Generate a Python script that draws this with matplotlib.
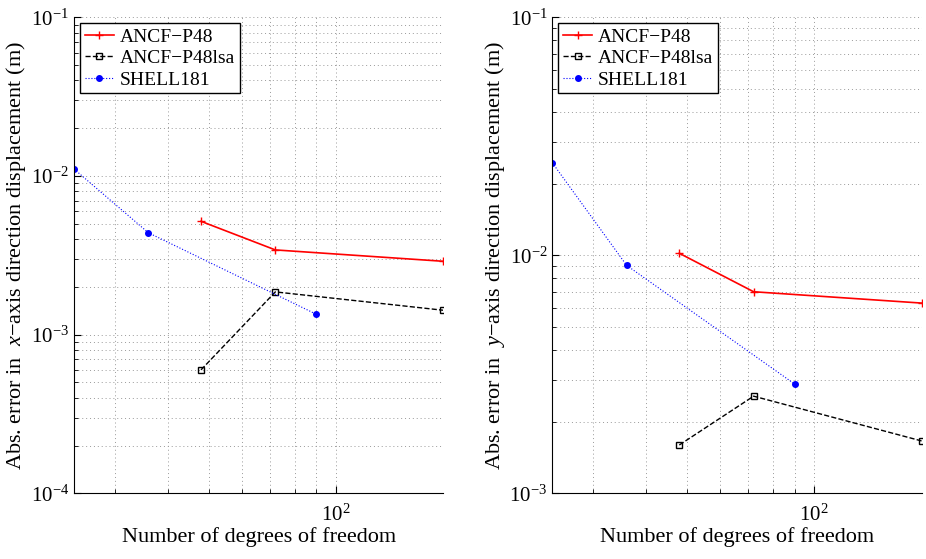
import matplotlib
matplotlib.use("Agg")
import matplotlib.pyplot as plt
from matplotlib.ticker import LogLocator, NullFormatter, FixedLocator

plt.rcParams['font.family'] = ['Liberation Serif', 'DejaVu Serif']
plt.rcParams['mathtext.fontset'] = 'custom'
plt.rcParams['mathtext.rm'] = 'Liberation Serif'
plt.rcParams['mathtext.it'] = 'Liberation Serif:italic'
plt.rcParams['font.size'] = 15

# degrees of freedom
dof_ancf = [48, 72, 180]
dof_shell = [24, 36, 90]

# x-axis direction errors (m)
x_ancf = [5.18e-3, 3.42e-3, 2.90e-3]
x_ancf_lsa = [6.0e-4, 1.86e-3, 1.425e-3]
x_shell = [1.107e-2, 4.39e-3, 1.345e-3]

# y-axis direction errors (m)
y_ancf = [1.02e-2, 7.03e-3, 6.30e-3]
y_ancf_lsa = [1.596e-3, 2.56e-3, 1.66e-3]
y_shell = [2.45e-2, 9.08e-3, 2.88e-3]

fig = plt.figure(figsize=(9.26, 5.59), dpi=100)
ax1 = fig.add_axes([0.0799, 0.1175, 0.3988, 0.8515])
ax2 = fig.add_axes([0.5964, 0.1175, 0.3988, 0.8515])


def panel(ax, a, lsa, sh, ylim, comp):
    ax.loglog(dof_ancf, a, '-', color='red', marker='+', ms=6, lw=1.2,
              label='ANCF\u2212P48')
    ax.loglog(dof_ancf, lsa, '--', color='black', marker='s', ms=4,
              mfc='none', lw=1.0, label='ANCF\u2212P48lsa')
    ax.loglog(dof_shell, sh, ':', color='blue', marker='.', ms=8, lw=0.8,
              label='SHELL181')
    ax.set_xlim(24, 180)
    ax.set_ylim(*ylim)
    ax.xaxis.set_major_locator(FixedLocator([100]))
    ax.xaxis.set_minor_locator(FixedLocator([30, 40, 50, 60, 70, 80, 90]))
    ax.xaxis.set_minor_formatter(NullFormatter())
    ax.yaxis.set_minor_locator(LogLocator(subs=range(2, 10)))
    ax.yaxis.set_minor_formatter(NullFormatter())
    ax.grid(True, which='both', linestyle=(0, (1, 3)), color='#999999', lw=0.7)
    ax.tick_params(which='both', direction='in', labelsize=15)
    ax.tick_params(which='major', length=5)
    ax.tick_params(which='minor', length=3)
    ax.tick_params(axis='x', which='major', pad=8)
    for s in ['top', 'right']:
        ax.spines[s].set_visible(False)
    ax.set_xlabel('Number of degrees of freedom', fontsize=16, labelpad=1)
    ax.set_ylabel('Abs. error in  $' + comp + '$\u2212axis direction displacement (m)',
                  fontsize=16, labelpad=2)
    leg = ax.legend(loc='upper left', fancybox=False, edgecolor='black',
                    framealpha=1, borderaxespad=0.3, handlelength=1.5,
                    handletextpad=0.3, labelspacing=0.2, borderpad=0.25,
                    fontsize=14)
    leg.get_frame().set_linewidth(1.0)


panel(ax1, x_ancf, x_ancf_lsa, x_shell, (1e-4, 1e-1), 'x')
panel(ax2, y_ancf, y_ancf_lsa, y_shell, (1e-3, 1e-1), 'y')

fig.savefig('out.png', dpi=100)
